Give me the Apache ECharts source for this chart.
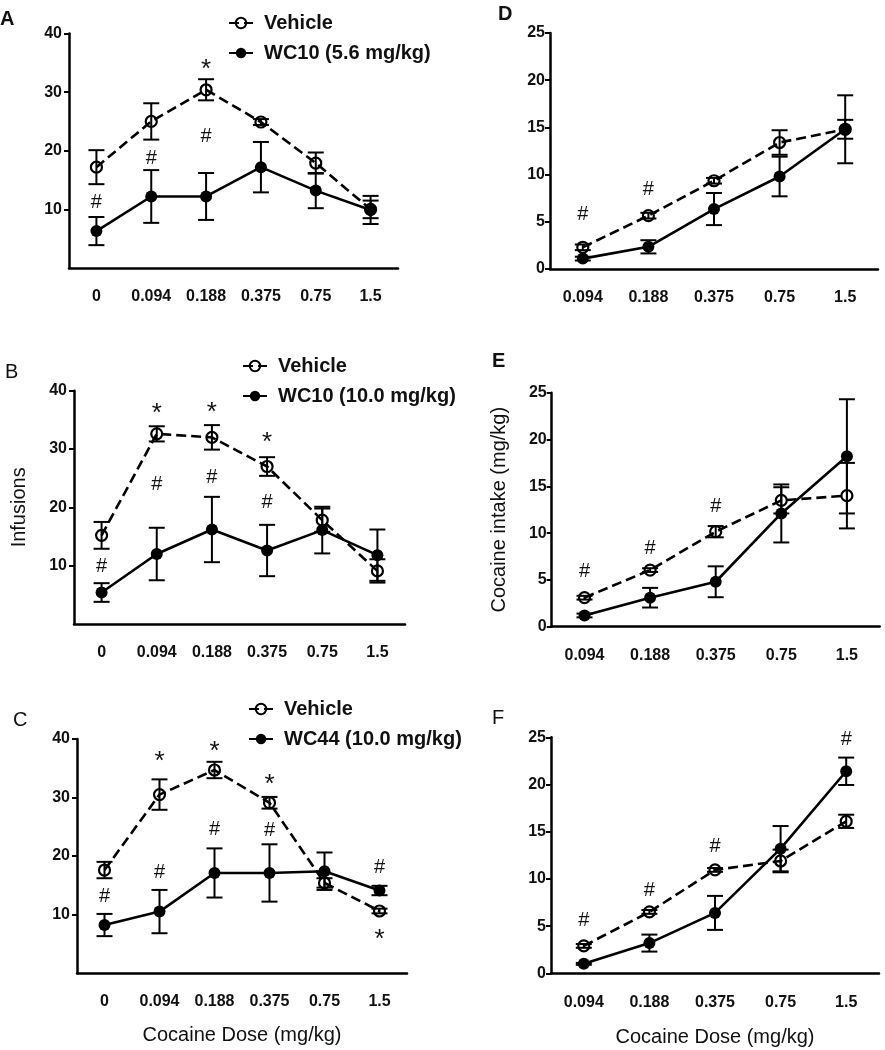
<!DOCTYPE html>
<html>
<head>
<meta charset="utf-8">
<script src="https://cdn.jsdelivr.net/npm/echarts@6/dist/echarts.min.js"></script>
<style>
html,body{margin:0;padding:0;background:#fff;}
#chart{width:885px;height:1050px;}
</style>
</head>
<body>
<div id="chart"></div>
<script>
// ---- categories ----
const doses6 = ['0', '0.094', '0.188', '0.375', '0.75', '1.5'];
const doses5 = ['0.094', '0.188', '0.375', '0.75', '1.5'];

// ---- series names ----
const vehName = 'Vehicle';
const wcNameA = 'WC10 (5.6 mg/kg)';
const wcNameB = 'WC10 (10.0 mg/kg)';
const wcNameC = 'WC44 (10.0 mg/kg)';

// ---- Panel A: infusions (WC10 5.6) ----
const vehA = [17.2, 25.0, 30.4, 24.9, 17.9, 10.0];
const vehAsem = [2.9, 3.1, 1.8, 0.5, 1.8, 1.5];
const wcA = [6.3, 12.2, 12.2, 17.2, 13.2, 9.9];
const wcAsem = [2.4, 4.5, 4.0, 4.3, 3.0, 2.4];
// ---- Panel B: infusions (WC10 10.0) ----
const vehB = [15.2, 32.6, 32.0, 27.0, 17.8, 9.1];
const vehBsem = [2.3, 1.3, 2.1, 1.6, 2.0, 2.0];
const wcB = [5.4, 12.0, 16.2, 12.6, 16.1, 11.8];
const wcBsem = [1.6, 4.5, 5.6, 4.4, 4.0, 4.4];
// ---- Panel C: infusions (WC44 10.0) ----
const vehC = [17.6, 30.5, 34.7, 29.1, 15.4, 10.6];
const vehCsem = [1.4, 2.6, 1.4, 1.0, 0.8, 0.4];
const wcC = [8.2, 10.5, 17.1, 17.1, 17.4, 14.1];
const wcCsem = [1.9, 3.7, 4.2, 4.9, 3.2, 0.8];
// ---- Panel D: intake (WC10 5.6) ----
const vehD = [2.3, 5.65, 9.35, 13.4, 14.8];
const vehDsem = [0.3, 0.3, 0.3, 1.3, 1.0];
const wcD = [1.1, 2.35, 6.35, 9.8, 14.8];
const wcDsem = [0.2, 0.7, 1.7, 2.1, 3.6];
// ---- Panel E: intake (WC10 10.0) ----
const vehE = [3.1, 6.05, 10.15, 13.5, 14.0];
const vehEsem = [0.2, 0.2, 0.6, 1.4, 3.5];
const wcE = [1.2, 3.1, 4.8, 12.1, 18.2];
const wcEsem = [0.2, 1.05, 1.65, 3.1, 6.1];
// ---- Panel F: intake (WC44 10.0) ----
const vehF = [2.9, 6.5, 10.95, 11.9, 16.1];
const vehFsem = [0.2, 0.2, 0.2, 1.2, 0.7];
const wcF = [1.0, 3.2, 6.4, 13.2, 21.4];
const wcFsem = [0.1, 0.9, 1.8, 2.4, 1.45];

// ---- significance marks [category index, y value, mark] ----
const annA = [[0, 11.2, '#'], [1, 18.6, '#'], [2, 22.4, '#'], [2, 34.7, '*']];
const annB = [[0, 9.8, '#'], [1, 24.0, '#'], [2, 25.2, '#'], [3, 20.9, '#'], [1, 36.9, '*'], [2, 37.0, '*'], [3, 32.0, '*']];
const annC = [[0, 13.0, '#'], [1, 17.2, '#'], [2, 24.6, '#'], [3, 24.3, '#'], [5, 18.1, '#'], [1, 37.0, '*'], [2, 38.7, '*'], [3, 33.0, '*'], [5, 6.5, '*']];
const annD = [[0, 5.8, '#'], [1, 8.4, '#']];
const annE = [[0, 5.9, '#'], [1, 8.4, '#'], [2, 12.8, '#']];
const annF = [[0, 5.6, '#'], [1, 8.8, '#'], [2, 13.4, '#'], [4, 24.8, '#']];

// ---- y axis ticks ----
const yMaxInf = 40, yStepInf = 10;
const yTicksInf = [10, 20, 30, 40];
const yMaxInt = 25, yStepInt = 5;

const FONT = '"Liberation Sans", Arial, sans-serif';

const panels = [
  {grid: {left: 69, top: 33.5, width: 329, height: 234.5}, cats: doses6, max: yMaxInf, step: yStepInf, ticks: yTicksInf,
   veh: vehA, vehSem: vehAsem, wc: wcA, wcSem: wcAsem, wcName: wcNameA, ann: annA, labelMargin: 7},
  {grid: {left: 74, top: 390.7, width: 331, height: 233.3}, cats: doses6, max: yMaxInf, step: yStepInf, ticks: yTicksInf,
   veh: vehB, vehSem: vehBsem, wc: wcB, wcSem: wcBsem, wcName: wcNameB, ann: annB, labelMargin: 7,
   yName: 'Infusions', yNameGap: 45},
  {grid: {left: 77, top: 739, width: 330, height: 234}, cats: doses6, max: yMaxInf, step: yStepInf, ticks: yTicksInf,
   veh: vehC, vehSem: vehCsem, wc: wcC, wcSem: wcCsem, wcName: wcNameC, ann: annC, labelMargin: 7,
   xName: 'Cocaine Dose (mg/kg)', xNameGap: 52},
  {grid: {left: 550, top: 33, width: 328, height: 236}, cats: doses5, max: yMaxInt, step: yStepInt,
   veh: vehD, vehSem: vehDsem, wc: wcD, wcSem: wcDsem, wcName: wcNameA, ann: annD, labelMargin: 5},
  {grid: {left: 551.7, top: 392.7, width: 328, height: 234}, cats: doses5, max: yMaxInt, step: yStepInt,
   veh: vehE, vehSem: vehEsem, wc: wcE, wcSem: wcEsem, wcName: wcNameB, ann: annE, labelMargin: 5,
   yName: 'Cocaine intake (mg/kg)', yNameGap: 42},
  {grid: {left: 551, top: 737.3, width: 328, height: 236}, cats: doses5, max: yMaxInt, step: yStepInt,
   veh: vehF, vehSem: vehFsem, wc: wcF, wcSem: wcFsem, wcName: wcNameC, ann: annF, labelMargin: 5,
   xName: 'Cocaine Dose (mg/kg)', xNameGap: 54}
];

const grids = [], xAxes = [], yAxes = [], series = [];

function errorBarSeries(i, means, sems) {
  return {
    type: 'custom', xAxisIndex: i, yAxisIndex: i, z: 5, silent: true,
    data: means.map((m, k) => [k, m, sems[k]]),
    encode: {x: 0, y: 1},
    renderItem: function (params, api) {
      const k = api.value(0), m = api.value(1), s = api.value(2);
      const top = api.coord([k, m + s]);
      const bot = api.coord([k, m - s]);
      const h = 8;
      const st = {stroke: '#000', lineWidth: 2};
      return {type: 'group', children: [
        {type: 'line', shape: {x1: top[0], y1: top[1], x2: bot[0], y2: bot[1]}, style: st},
        {type: 'line', shape: {x1: top[0] - h, y1: top[1], x2: top[0] + h, y2: top[1]}, style: st},
        {type: 'line', shape: {x1: bot[0] - h, y1: bot[1], x2: bot[0] + h, y2: bot[1]}, style: st}
      ]};
    }
  };
}

function annSeries(i, ann) {
  return {
    type: 'custom', xAxisIndex: i, yAxisIndex: i, z: 6, silent: true,
    data: ann.map(a => [a[0], a[1]]),
    encode: {x: 0, y: 1},
    renderItem: function (params, api) {
      const a = ann[params.dataIndex];
      const p = api.coord([api.value(0), api.value(1)]);
      const star = a[2] === '*';
      return {type: 'text', x: p[0], y: p[1] + (star ? 5 : 0), style: {
        text: a[2], fill: '#111', font: (star ? '26px ' : '20px ') + FONT,
        textAlign: 'center', textVerticalAlign: 'middle'}};
    }
  };
}

panels.forEach((p, i) => {
  grids.push(Object.assign({containLabel: false}, p.grid));
  xAxes.push({
    type: 'category', gridIndex: i, data: p.cats, boundaryGap: true,
    axisLine: {lineStyle: {color: '#000', width: 2.5}},
    axisTick: {alignWithLabel: true, length: 6, lineStyle: {color: '#000', width: 2.5}},
    axisLabel: {color: '#111', fontSize: 16, fontWeight: 'bold', fontFamily: FONT, margin: 21},
    name: p.xName || '', nameLocation: 'middle', nameGap: p.xNameGap || 0,
    nameTextStyle: {color: '#111', fontSize: 20, fontFamily: FONT}
  });
  const tickOpt = {show: true, length: 5, lineStyle: {color: '#000', width: 2}};
  const labelOpt = {color: '#111', fontSize: 16, fontWeight: 'bold', fontFamily: FONT, margin: p.labelMargin};
  if (p.ticks) { tickOpt.customValues = p.ticks; labelOpt.customValues = p.ticks; }
  yAxes.push({
    type: 'value', gridIndex: i, min: 0, max: p.max, interval: p.step,
    splitLine: {show: false},
    axisLine: {show: true, lineStyle: {color: '#000', width: 2.5}},
    axisTick: tickOpt,
    axisLabel: labelOpt,
    name: p.yName || '', nameLocation: 'middle', nameGap: p.yNameGap || 0, nameRotate: 90,
    nameTextStyle: {color: '#111', fontSize: 20, fontFamily: FONT}
  });
  series.push({
    name: vehName, type: 'line', xAxisIndex: i, yAxisIndex: i, data: p.veh, z: 3,
    symbol: 'circle', symbolSize: 11,
    itemStyle: {color: 'rgba(255,255,255,0)', borderColor: '#000', borderWidth: 2.2},
    lineStyle: {color: '#000', width: 2.6, type: [10, 5]},
    emphasis: {disabled: true}
  });
  series.push({
    name: p.wcName, type: 'line', xAxisIndex: i, yAxisIndex: i, data: p.wc, z: 4,
    symbol: 'circle', symbolSize: 12,
    itemStyle: {color: '#000', borderColor: '#000', borderWidth: 0},
    lineStyle: {color: '#000', width: 2.6},
    emphasis: {disabled: true}
  });
  series.push(errorBarSeries(i, p.veh, p.vehSem));
  series.push(errorBarSeries(i, p.wc, p.wcSem));
  series.push(annSeries(i, p.ann));
});

const legendBase = {
  orient: 'vertical', itemWidth: 24, itemHeight: 13, itemGap: 10, selectedMode: false,
  textStyle: {color: '#111', fontSize: 20, fontWeight: 'bold', fontFamily: FONT, padding: [0, 0, 0, 6]}
};
const legends = [
  Object.assign({}, legendBase, {left: 223, top: 8, data: [vehName, wcNameA]}),
  Object.assign({}, legendBase, {left: 237, top: 351, data: [vehName, wcNameB]}),
  Object.assign({}, legendBase, {left: 243, top: 694, data: [vehName, wcNameC]})
];

function letter(t, x, y, bold) {
  return {type: 'text', left: x, top: y, style: {text: t, fill: '#111',
    font: (bold ? 'bold ' : '') + '20px ' + FONT}};
}

const option = {
  backgroundColor: '#fff',
  animation: false,
  grid: grids, xAxis: xAxes, yAxis: yAxes, series: series, legend: legends,
  graphic: [
    letter('A', 0, 9, true),
    letter('B', 5, 362, false),
    letter('C', 13, 710, false),
    letter('D', 498, 4, true),
    letter('E', 492, 351, true),
    letter('F', 492, 708, false)
  ]
};

const chart = echarts.init(document.getElementById('chart'), null, {renderer: 'canvas'});
chart.setOption(option);
</script>
</body>
</html>
